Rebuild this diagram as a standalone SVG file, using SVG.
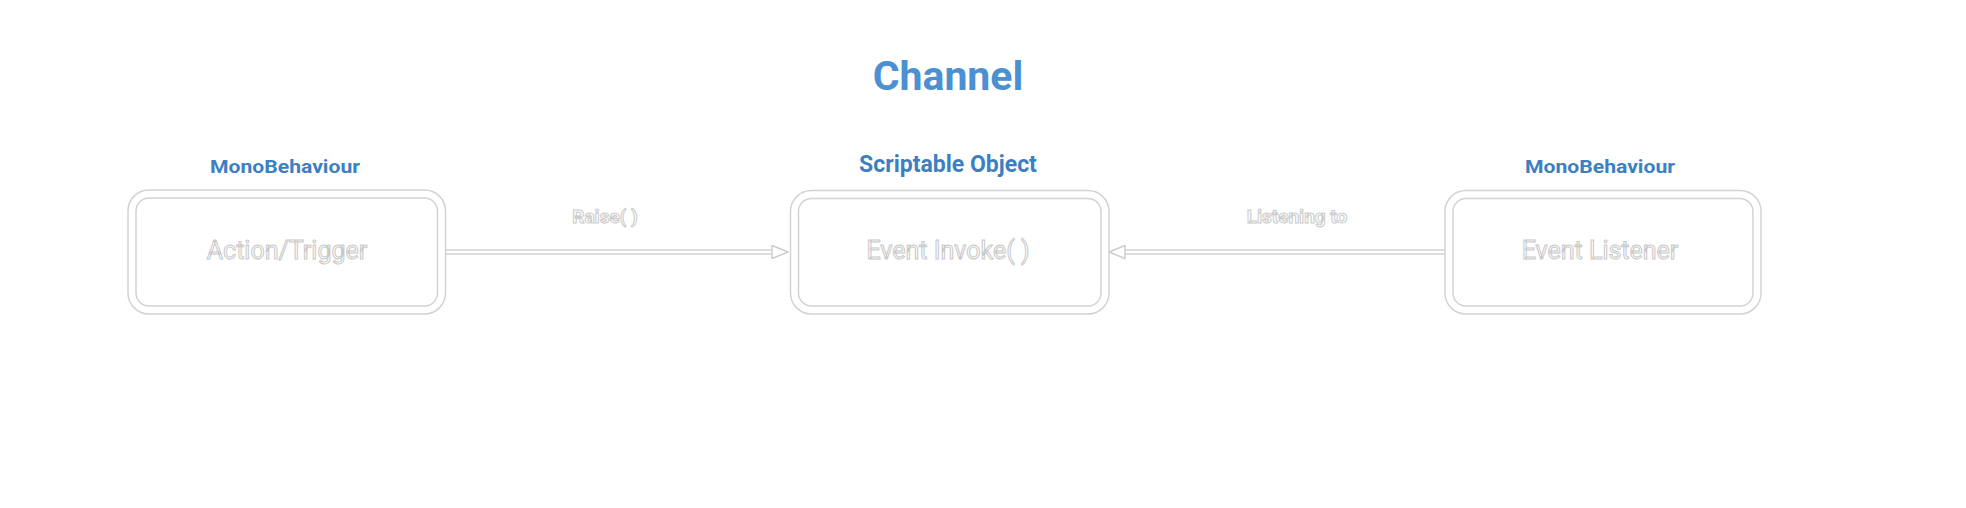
<svg xmlns="http://www.w3.org/2000/svg" width="1966" height="508" viewBox="0 0 1966 508">
<style>
.bg{fill:#ffffff}
.title{font-family:Roboto,"Liberation Sans",sans-serif;font-weight:700;fill:#4a90d2;text-anchor:middle}
.stereo{font-family:Roboto,"Liberation Sans",sans-serif;font-weight:700;fill:#3d7fc0;text-anchor:middle}
.boxo{fill:#ffffff;stroke:#d2d2d2;stroke-width:9.5}
.boxi{fill:none;stroke:#ffffff;stroke-width:6.6}
.ntext{font-family:Roboto,"Liberation Sans",sans-serif;font-weight:400;font-size:25px;fill:#ffffff;stroke:#c8c8c8;stroke-width:1;text-anchor:middle}
.etext{font-family:Roboto,"Liberation Sans",sans-serif;font-weight:700;font-size:19px;fill:#ffffff;stroke:#cacaca;stroke-width:1;text-anchor:middle}
.lo{stroke:#d2d2d2;stroke-width:5.5;fill:none}
.li{stroke:#ffffff;stroke-width:2.6;fill:none}
.head{fill:#ffffff;stroke:#cccccc;stroke-width:1.4;stroke-linejoin:round}
</style>
<rect class="bg" x="0" y="0" width="1966" height="508"/>
<text id="title" class="title" x="948" y="90" font-size="41">Channel</text>
<g id="connectors">
  <g id="edge-raise">
    <line class="lo" x1="445" y1="252" x2="774" y2="252"/>
    <line class="li" x1="443" y1="252" x2="776" y2="252"/>
    <polygon class="head" points="772,245.5 788,252 772,258.5"/>
    <text class="etext" x="605" y="223">Raise( )</text>
  </g>
  <g id="edge-listen">
    <line class="lo" x1="1445" y1="252" x2="1123" y2="252"/>
    <line class="li" x1="1447" y1="252" x2="1121" y2="252"/>
    <polygon class="head" points="1125,245.5 1109,252 1125,258.5"/>
    <text class="etext" x="1297" y="223">Listening to</text>
  </g>
</g>
<g id="node-action">
  <text class="stereo" x="285" y="173" font-size="19" textLength="150" lengthAdjust="spacingAndGlyphs">MonoBehaviour</text>
  <rect class="boxo" x="132" y="194" width="309.5" height="116" rx="17"/>
  <rect class="boxi" x="132" y="194" width="309.5" height="116" rx="17"/>
  <text class="ntext" x="287" y="259">Action/Trigger</text>
</g>
<g id="node-event">
  <text class="stereo" x="948" y="172" font-size="23">Scriptable Object</text>
  <rect class="boxo" x="794.5" y="194.5" width="310.5" height="115.5" rx="17"/>
  <rect class="boxi" x="794.5" y="194.5" width="310.5" height="115.5" rx="17"/>
  <text class="ntext" x="948" y="259">Event Invoke( )</text>
</g>
<g id="node-listener">
  <text class="stereo" x="1600" y="173" font-size="19" textLength="150" lengthAdjust="spacingAndGlyphs">MonoBehaviour</text>
  <rect class="boxo" x="1449" y="194.5" width="308" height="115.5" rx="17"/>
  <rect class="boxi" x="1449" y="194.5" width="308" height="115.5" rx="17"/>
  <text class="ntext" x="1600" y="259">Event Listener</text>
</g>
</svg>
